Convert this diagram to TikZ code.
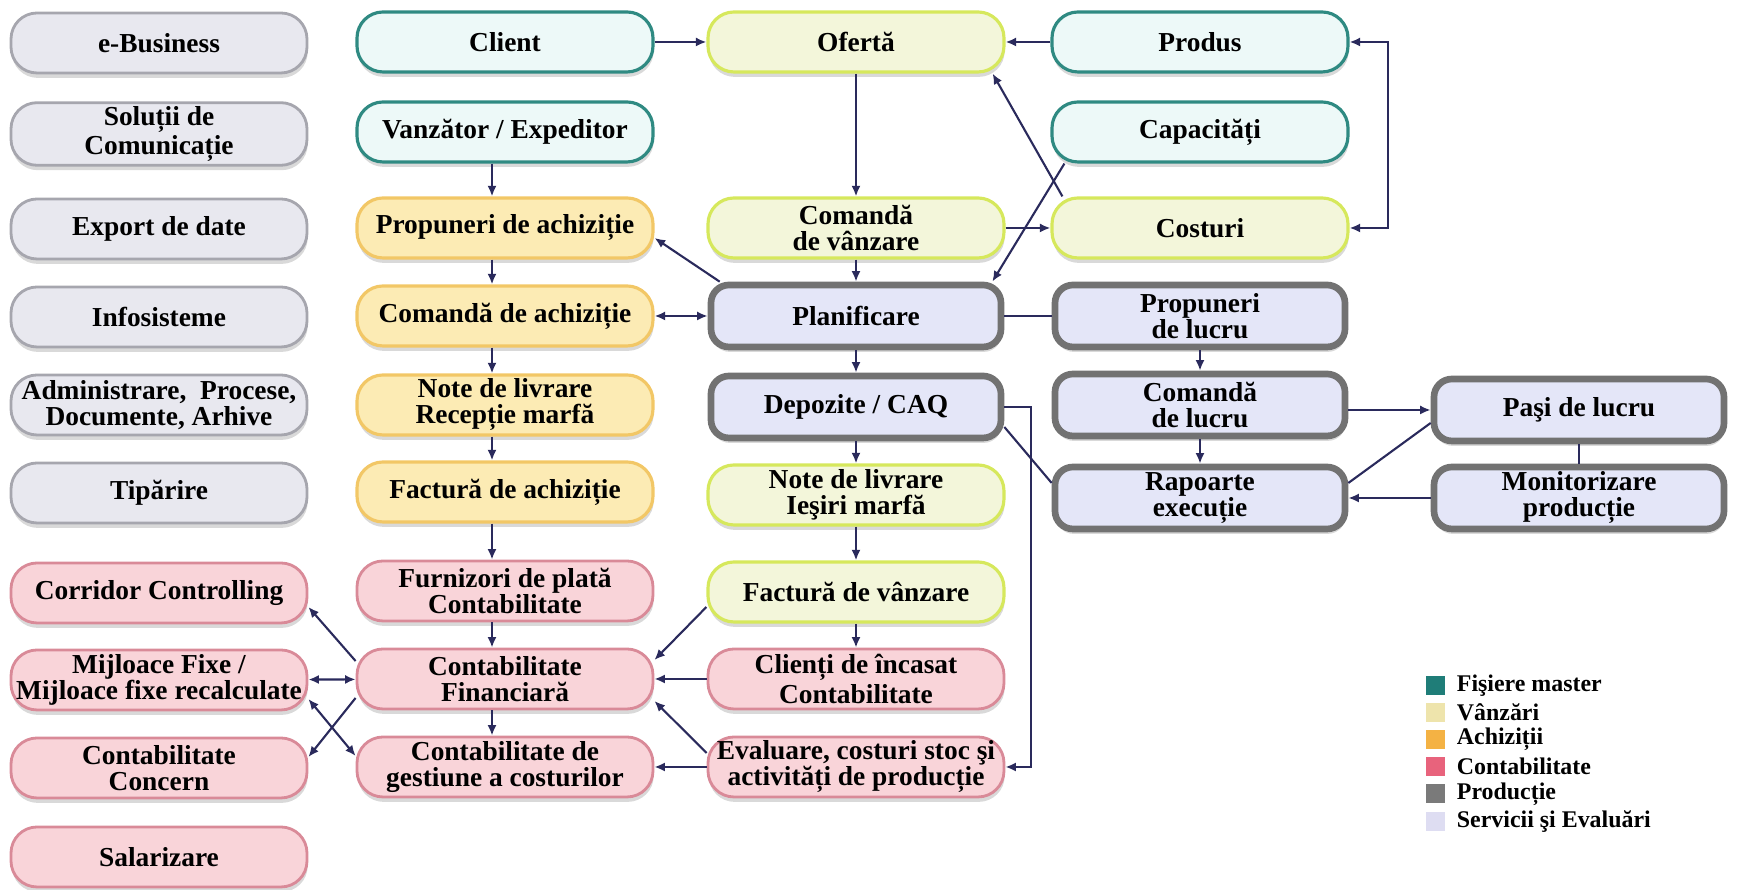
\documentclass[tikz,border=0pt]{standalone}
\usepackage{fontspec}
\setmainfont{Liberation Serif}
\usepackage{tikz}
\usetikzlibrary{arrows.meta,shadows}

% colours of the six areas
\definecolor{linkc}{HTML}{2A2A5C}
\definecolor{srvfill}{HTML}{E8E8EF}
\definecolor{srvline}{HTML}{A6A6AE}
\definecolor{mstfill}{HTML}{EDF9F8}
\definecolor{mstline}{HTML}{2F8A82}
\definecolor{salfill}{HTML}{F3F6DA}
\definecolor{salline}{HTML}{D6E85C}
\definecolor{purfill}{HTML}{FCEBB4}
\definecolor{purline}{HTML}{F2C766}
\definecolor{accfill}{HTML}{F9D4D9}
\definecolor{accline}{HTML}{D98A98}
\definecolor{prdfill}{HTML}{E4E6F8}
\definecolor{prdline}{HTML}{727272}
\definecolor{lgmst}{HTML}{1F7D78}
\definecolor{lgsal}{HTML}{EEE4AC}
\definecolor{lgpur}{HTML}{F4B244}
\definecolor{lgacc}{HTML}{E8637C}
\definecolor{lgprd}{HTML}{7A7A7A}
\definecolor{lgsrv}{HTML}{DEDDF2}

\begin{document}
\begin{tikzpicture}[
  box/.style={rounded corners=2.6mm, minimum width=2.96cm, minimum height=0.6cm, inner sep=1pt,
    align=center, font=\fontsize{7.8}{7.4}\selectfont\bfseries,
    drop shadow={shadow xshift=0.2pt, shadow yshift=-1.4pt, opacity=0.3}},
  srv/.style={box, draw=srvline, fill=srvfill, line width=0.8pt},
  mst/.style={box, draw=mstline, fill=mstfill, line width=0.9pt},
  sal/.style={box, draw=salline, fill=salfill, line width=0.9pt},
  pur/.style={box, draw=purline, fill=purfill, line width=0.9pt},
  acc/.style={box, draw=accline, fill=accfill, line width=0.8pt},
  prd/.style={box, rounded corners=1.8mm, draw=prdline, fill=prdfill, line width=1.9pt,
    minimum width=2.9cm, minimum height=0.62cm},
  link/.style={draw=linkc, line width=0.6pt, -{Latex[length=3pt,width=2.6pt]}},
  duo/.style={link, {Latex[length=3pt,width=2.6pt]}-{Latex[length=3pt,width=2.6pt]}},
  tie/.style={draw=linkc, line width=0.6pt},
  legsq/.style={minimum size=0.19cm, inner sep=0pt},
  legtxt/.style={anchor=west, inner sep=0pt, font=\fontsize{6.8}{7}\selectfont\bfseries}
]
\useasboundingbox (0,0) rectangle (17.37,8.9);

% services column
\node[srv] (ebiz)     at (1.59,8.47) {e-Business};
\node[srv] (solutii)  at (1.59,7.56) {Soluții de\\Comunicație};
\node[srv] (export)   at (1.59,6.61) {Export de date};
\node[srv] (infosis)  at (1.59,5.73) {Infosisteme};
\node[srv] (admin)    at (1.59,4.85) {Administrare,~ Procese,\\Documente, Arhive};
\node[srv] (tiparire) at (1.59,3.97) {Tipărire};
\node[acc] (corridor) at (1.59,2.97) {Corridor Controlling};
\node[acc] (mijloace) at (1.59,2.10) {Mijloace Fixe /\\Mijloace fixe recalculate};
\node[acc] (concern)  at (1.59,1.22) {Contabilitate\\Concern};
\node[acc] (salar)    at (1.59,0.33) {Salarizare};

% purchasing column
\node[mst] (client)   at (5.05,8.48) {Client};
\node[mst] (vanzator) at (5.05,7.58) {Vanzător / Expeditor};
\node[pur] (propach)  at (5.05,6.62) {Propuneri de achiziție};
\node[pur] (comach)   at (5.05,5.74) {Comandă de achiziție};
\node[pur] (noterec)  at (5.05,4.85) {Note de livrare\\Recepție marfă};
\node[pur] (factach)  at (5.05,3.98) {Factură de achiziție};
\node[acc] (furniz)   at (5.05,2.99) {Furnizori de plată\\Contabilitate};
\node[acc] (contfin)  at (5.05,2.11) {Contabilitate\\Financiară};
\node[acc] (contgest) at (5.05,1.23) {Contabilitate de\\gestiune a costurilor};

% sales column
\node[sal] (oferta)   at (8.56,8.48) {Ofertă};
\node[sal] (comvanz)  at (8.56,6.62) {Comandă\\de vânzare};
\node[prd] (planif)   at (8.56,5.74) {Planificare};
\node[prd] (depoz)    at (8.56,4.83) {Depozite / CAQ};
\node[sal] (noteies)  at (8.56,3.95) {Note de livrare\\Ieşiri marfă};
\node[sal] (factvanz) at (8.56,2.98) {Factură de vânzare};
\node[acc] (clienti)  at (8.56,2.11) {Clienți de încasat\\Contabilitate};
\node[acc] (evaluare) at (8.56,1.23) {Evaluare, costuri stoc şi\\activități de producție};

% master files and production
\node[mst] (produs)    at (12.0,8.48) {Produs};
\node[mst] (capac)     at (12.0,7.58) {Capacități};
\node[sal] (costuri)   at (12.0,6.62) {Costuri};
\node[prd] (proplucru) at (12.0,5.74) {Propuneri\\de lucru};
\node[prd] (comlucru)  at (12.0,4.85) {Comandă\\de lucru};
\node[prd] (rapoarte)  at (12.0,3.92) {Rapoarte\\execuție};
\node[prd] (pasi)      at (15.79,4.80) {Paşi de lucru};
\node[prd] (monitor)   at (15.79,3.92) {Monitorizare\\producție};

% sales and master files
\draw[link] (client) -- (oferta);
\draw[link] (produs) -- (oferta);
\draw[link] (oferta) -- (comvanz);
\draw[link] ([xshift=1.2mm]costuri.north west) -- ([xshift=-1.3mm]oferta.south east);
\draw[link] ([xshift=1.4mm]capac.south west) -- ([xshift=-1.2mm]planif.north east);
\draw[link] (comvanz) -- (costuri);
\draw[link] (comvanz) -- (planif);
\draw[duo] (produs.east) -- ++(0.38,0) |- (costuri.east);

% purchasing chain
\draw[link] ([xshift=-1.3mm]vanzator.south) -- ([xshift=-1.3mm]propach.north);
\draw[link] ([xshift=-1.3mm]propach.south) -- ([xshift=-1.3mm]comach.north);
\draw[link] ([xshift=-1.3mm]comach.south) -- ([xshift=-1.3mm]noterec.north);
\draw[link] ([xshift=-1.3mm]noterec.south) -- ([xshift=-1.3mm]factach.north);
\draw[link] ([xshift=-1.3mm]factach.south) -- ([xshift=-1.3mm]furniz.north);
\draw[link] ([xshift=-1.3mm]furniz.south) -- ([xshift=-1.3mm]contfin.north);
\draw[link] ([xshift=-1.3mm]contfin.south) -- ([xshift=-1.3mm]contgest.north);
\draw[link] ([xshift=1.2mm]planif.north west) -- ([yshift=-1mm]propach.east);
\draw[duo] (comach) -- (planif);

% planning, stock and sales documents
\draw[tie] (planif) -- (proplucru);
\draw[link] (planif) -- (depoz);
\draw[link] (depoz) -- (noteies);
\draw[link] (noteies) -- (factvanz);
\draw[link] (factvanz) -- (clienti);
\draw[link] (depoz.east) -- ++(0.27,0) |- (evaluare.east);
\draw[tie] ([yshift=-2mm]depoz.east) -- ([yshift=1.5mm]rapoarte.west);

% production
\draw[link] (proplucru) -- (comlucru);
\draw[link] (comlucru) -- (rapoarte);
\draw[link] (comlucru.east |- pasi) -- (pasi);
\draw[tie] ([yshift=1.5mm]rapoarte.east) -- ([yshift=-1.3mm]pasi.west);
\draw[tie] (pasi) -- (monitor);
\draw[link] (monitor) -- (rapoarte);

% accounting
\draw[link] ([yshift=-1.5mm]factvanz.west) -- ([yshift=1.9mm]contfin.east);
\draw[link] (clienti) -- (contfin);
\draw[link] ([yshift=1.4mm]evaluare.west) -- ([yshift=-2.2mm]contfin.east);
\draw[link] (evaluare) -- (contgest);
\draw[link] ([yshift=1.8mm]contfin.west) -- ([yshift=-1.4mm]corridor.east);
\draw[duo] (contfin) -- (mijloace);
\draw[link] ([yshift=-1.9mm]contfin.west) -- ([yshift=1.1mm]concern.east);
\draw[duo] ([yshift=-1.9mm]mijloace.east) -- ([yshift=1.1mm]contgest.west);

% legend
\foreach \c/\t [count=\i] in {lgmst/Fişiere master, lgsal/Vânzări, lgpur/Achiziții,
    lgacc/Contabilitate, lgprd/Producție, lgsrv/Servicii şi Evaluări} {
  \node[legsq, fill=\c] (sq\i) at (14.35,2.32-0.272*\i) {};
  \node[legtxt] (lg\i) at ([xshift=1.1mm]sq\i.east) {\t};
}
\end{tikzpicture}
\end{document}
